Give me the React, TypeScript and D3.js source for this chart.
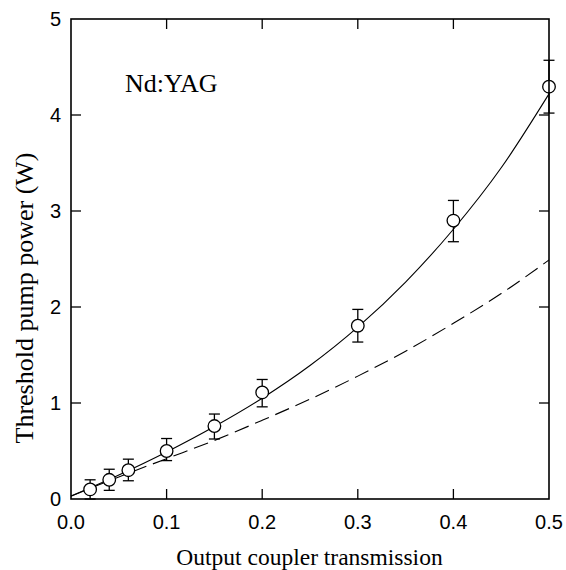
import React from "react";
import * as d3 from "d3";

const transmission = [0.02, 0.04, 0.06, 0.1, 0.15, 0.2, 0.3, 0.4, 0.5];
const thresholdPower = [0.1, 0.2, 0.3, 0.5, 0.76, 1.11, 1.805, 2.9, 4.295];
const errorUp = [0.1, 0.11, 0.115, 0.13, 0.125, 0.135, 0.17, 0.21, 0.275];
const errorDown = [0.1, 0.11, 0.11, 0.1, 0.135, 0.15, 0.17, 0.22, 0.275];

const curveT = [0, 0.05, 0.1, 0.15, 0.2, 0.25, 0.3, 0.35, 0.4, 0.45, 0.5];
const solidFit = [0.03, 0.25, 0.49, 0.755, 1.05, 1.39, 1.79, 2.26, 2.81, 3.45, 4.22];
const dashedFit = [0.03, 0.23, 0.42, 0.61, 0.82, 1.04, 1.28, 1.54, 1.83, 2.14, 2.49];

const xTicks = [0, 0.1, 0.2, 0.3, 0.4, 0.5];
const yTicks = [0, 1, 2, 3, 4, 5];

const W = 566;
const H = 570;
const left = 71;
const right = 549;
const top = 19;
const bottom = 499;

export default function App() {
  const x = d3.scaleLinear().domain([0, 0.5]).range([left, right]);
  const y = d3.scaleLinear().domain([0, 5]).range([bottom, top]);
  const line = d3
    .line<[number, number]>()
    .x((d) => x(d[0]))
    .y((d) => y(d[1]))
    .curve(d3.curveMonotoneX);
  const solidPath = line(curveT.map((t, i) => [t, solidFit[i]]) as [number, number][]) || "";
  const dashedPath = line(curveT.map((t, i) => [t, dashedFit[i]]) as [number, number][]) || "";
  const tickLen = 10;
  const sans = "'Liberation Sans', Arial, sans-serif";
  const serif = "'Liberation Serif', 'Times New Roman', serif";

  return (
    <svg
      width={W}
      height={H}
      style={{ position: "absolute", left: 0, top: 0, background: "#fff" }}
    >
      <rect x={0} y={0} width={W} height={H} fill="#fff" />
      {xTicks.slice(1, -1).map((t) => (
        <g key={"xt" + t} stroke="#000" strokeWidth={1.3}>
          <line x1={x(t)} x2={x(t)} y1={bottom} y2={bottom - tickLen} />
          <line x1={x(t)} x2={x(t)} y1={top} y2={top + tickLen} />
        </g>
      ))}
      {yTicks.slice(1, -1).map((t) => (
        <g key={"yt" + t} stroke="#000" strokeWidth={1.3}>
          <line x1={left} x2={left + tickLen} y1={y(t)} y2={y(t)} />
          <line x1={right} x2={right - tickLen} y1={y(t)} y2={y(t)} />
        </g>
      ))}
      <path d={dashedPath} fill="none" stroke="#000" strokeWidth={1.1} strokeDasharray="15,7" />
      <path d={solidPath} fill="none" stroke="#000" strokeWidth={1.1} />
      {transmission.map((t, i) => {
        const cx = x(t);
        const yt = y(thresholdPower[i] + errorUp[i]);
        const yb = y(thresholdPower[i] - errorDown[i]);
        return (
          <g key={"p" + i} stroke="#000" strokeWidth={1.3}>
            <line x1={cx} x2={cx} y1={yt} y2={yb} />
            <line x1={cx - 5.5} x2={cx + 5.5} y1={yt} y2={yt} />
            <line x1={cx - 5.5} x2={cx + 5.5} y1={yb} y2={yb} />
            <circle cx={cx} cy={y(thresholdPower[i])} r={6.3} fill="#fff" />
          </g>
        );
      })}
      <rect
        x={left}
        y={top}
        width={right - left}
        height={bottom - top}
        fill="none"
        stroke="#000"
        strokeWidth={1.6}
      />
      {xTicks.map((t) => (
        <text key={"xl" + t} x={x(t)} y={529} textAnchor="middle" fontFamily={sans} fontSize={20}>
          {t.toFixed(1)}
        </text>
      ))}
      {yTicks.map((t) => (
        <text key={"yl" + t} x={61} y={y(t) + 7} textAnchor="end" fontFamily={sans} fontSize={20}>
          {t}
        </text>
      ))}
      <text x={309.5} y={565} textAnchor="middle" fontFamily={serif} fontSize={23.5}>
        Output coupler transmission
      </text>
      <text
        transform={`translate(33, 298) rotate(-90)`}
        textAnchor="middle"
        fontFamily={serif}
        fontSize={26}
      >
        Threshold pump power (W)
      </text>
      <text x={125} y={91.5} fontFamily={serif} fontSize={26}>
        Nd:YAG
      </text>
    </svg>
  );
}
